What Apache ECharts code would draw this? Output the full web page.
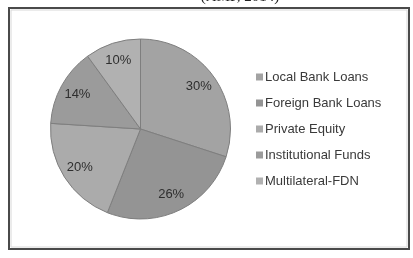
<!DOCTYPE html>
<html><head><meta charset="utf-8">
<script src="https://cdn.jsdelivr.net/npm/echarts@6/dist/echarts.min.js"></script>
<style>html,body{margin:0;padding:0;background:#fff}#c{width:413px;height:258px}</style>
</head><body><div id="c"></div>
<script>
const categories = ['Local Bank Loans','Foreign Bank Loans','Private Equity','Institutional Funds','Multilateral-FDN'];
const shares = [30, 26, 20, 14, 10];
const sliceColors = ['#a3a3a3','#949494','#ababab','#9b9b9b','#b1b1b1'];
const titleText = '(AMP, 2014)';

const data = categories.map((n,i)=>({name:n, value:shares[i], itemStyle:{color:sliceColors[i]}}));
const chart = echarts.init(document.getElementById('c'), null, {renderer:'canvas'});
chart.setOption({
  animation:false,
  title:{text:titleText, left:235, top:-15, textAlign:'center',
    textStyle:{fontFamily:'Liberation Serif', fontSize:15, fontWeight:'normal', color:'#222'}},
  graphic:[
    {type:'rect', shape:{x:9,y:8,width:400,height:241}, style:{fill:'none', stroke:'#4a4a4a', lineWidth:2}, z:-1},
    {type:'rect', shape:{x:11,y:10,width:396,height:237}, style:{fill:'none', stroke:'#d8d8d8', lineWidth:1}, z:-1}
  ],
  legend:{orient:'vertical', left:256, top:70, padding:0, itemWidth:7, itemHeight:7, itemGap:12,
    icon:'rect', data:categories, itemStyle:{borderWidth:0},
    textStyle:{fontFamily:'Liberation Sans', fontSize:13, color:'#3a3a3a', lineHeight:14, padding:[0,0,0,-3]}},
  series:[
    {type:'pie', center:[140.5,129], radius:[0,90], startAngle:90, clockwise:true,
      data:data, label:{show:false}, labelLine:{show:false},
      itemStyle:{borderColor:'#7e7e7e', borderWidth:1}, emphasis:{disabled:true}},
    {type:'pie', center:[140.5,129], radius:[48,90], startAngle:90, clockwise:true, silent:true,
      data:categories.map((n,i)=>({name:n, value:shares[i]})),
      itemStyle:{color:'rgba(0,0,0,0)', borderWidth:0},
      label:{show:true, position:'inside', formatter:'{c}%', fontFamily:'Liberation Sans', fontSize:13, color:'#2e2e2e'},
      labelLine:{show:false}, emphasis:{disabled:true}}
  ]
});
</script></body></html>
